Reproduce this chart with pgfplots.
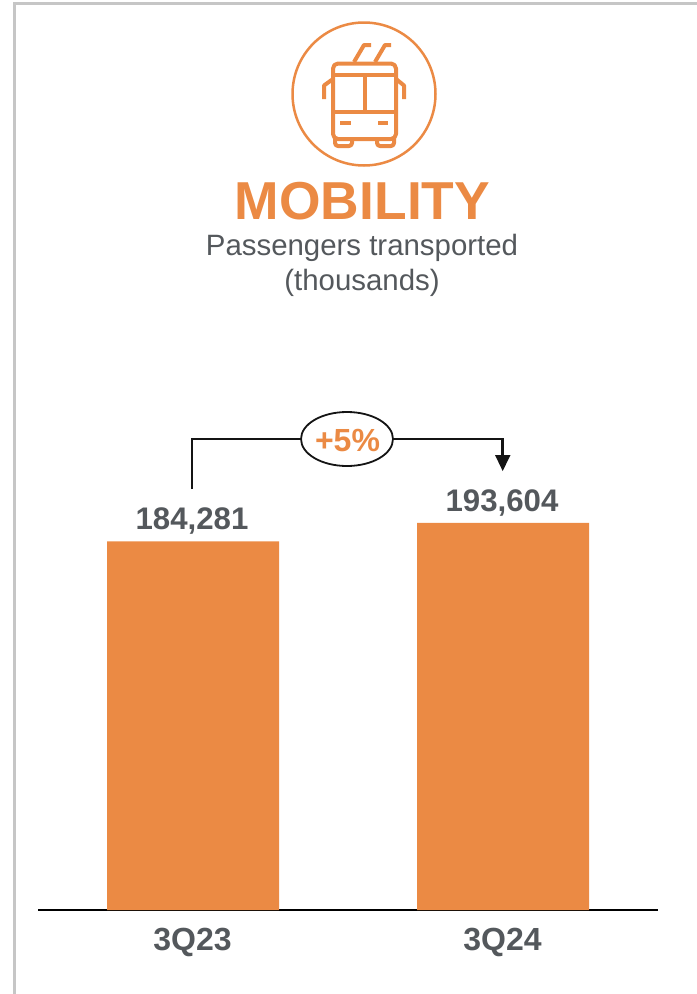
\documentclass[border=0pt]{standalone}
\usepackage{fontspec}
\setmainfont{Liberation Sans}
\usepackage{pgfplots}
\pgfplotsset{compat=1.18}
\usetikzlibrary{arrows.meta}
\definecolor{brandorange}{HTML}{EB8A44}
\definecolor{labelgrey}{HTML}{54585C}
\definecolor{framegrey}{HTML}{C6C6C6}
\newcommand{\fs}[1]{\fontsize{#1bp}{#1bp}\selectfont}
\begin{document}
\begin{tikzpicture}[x=1bp,y=-1bp,line cap=butt]
\path[use as bounding box] (0,0) rectangle (697,994);
% panel frame
\draw[framegrey,line width=3bp] (14,994) -- (14,3) -- (697,3);
% trolleybus emblem
\draw[brandorange,line width=2.5bp] (364,94) circle [radius=71.5];
\begin{scope}[brandorange,line width=4bp,line join=round]
  \draw[rounded corners=5bp] (333,63.5) rectangle (396,139);
  \draw (333,74.5) -- (396,74.5);
  \draw (333,111.5) -- (396,111.5);
  \draw (364.5,74.5) -- (364.5,111.5);
  \draw (340,123) -- (351,123);
  \draw (378,123) -- (388,123);
  \draw[rounded corners=3bp] (335,139) -- (335,146) -- (352,146) -- (352,139);
  \draw[rounded corners=3bp] (377,139) -- (377,146) -- (394,146) -- (394,139);
  \draw (333,79) -- (324,85.5) -- (324,99);
  \draw (396,79) -- (404,85.5) -- (404,99);
  \draw (354,62) -- (364,45) -- (371,45);
  \draw (375,62) -- (385,45) -- (391,45);
\end{scope}
% headings
\node[anchor=base,inner sep=0pt,text=brandorange] at (362.5,219) {\fs{53.4}\bfseries MOBILITY};
\node[anchor=base,inner sep=0pt,text=labelgrey] at (362,255) {\fs{29.4}Passengers transported};
\node[anchor=base,inner sep=0pt,text=labelgrey] at (362,290) {\fs{29.4}(thousands)};
% growth bracket
\draw[black!92,line width=2.5bp,line join=miter] (192,489) -- (192,439) -- (502.5,439) -- (502.5,456);
\fill[black!92] (495,455) -- (510.5,455) -- (502.7,471) -- cycle;
\draw[black!92,line width=1.8bp,fill=white] (347,439) ellipse [x radius=46, y radius=27];
\node[anchor=base,inner sep=0pt,text=brandorange] at (347.5,451.5) {\fs{32}\bfseries +5\%};
\begin{axis}[
  at={(38bp,-910bp)}, anchor=south west,
  scale only axis, width=620bp, height=500bp,
  xmin=-0.5, xmax=1.5, ymin=0, ymax=250000,
  clip=false,
  hide y axis,
  axis x line*=bottom,
  axis line style={black,line width=2bp,-},
  xtick=data,
  xticklabels={3Q23,3Q24},
  major tick length=0pt,
  xticklabel style={anchor=base,yshift=-40.5bp,xshift=-0.5bp,inner sep=0pt,text=labelgrey,font=\fs{32}\bfseries},
  /pgf/number format/assume math mode=true,
  /pgf/number format/fixed,
  /pgf/number format/precision=0,
  /pgf/number format/1000 sep={,},
  ybar,
  bar width=172bp,
  nodes near coords,
  point meta=y,
  every node near coord/.append style={anchor=base,yshift=11.5bp,xshift=-1bp,inner sep=0pt,text=labelgrey,font=\fs{31.2}\bfseries},
]
\addplot[fill=brandorange,draw=none] coordinates {(0,184281) (1,193604)};
\end{axis}
\end{tikzpicture}
\end{document}
